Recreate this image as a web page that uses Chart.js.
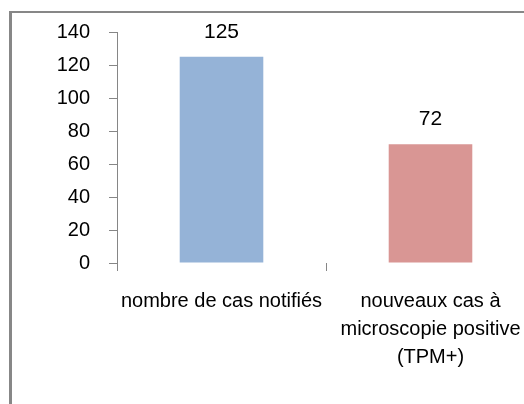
<!DOCTYPE html>
<html>
<head>
<meta charset="utf-8">
<script src="https://cdn.jsdelivr.net/npm/chart.js@4"></script>
<style>
  html, body { margin: 0; padding: 0; background: #fff; overflow: hidden; }
  #frame {
    position: absolute; left: 9px; top: 11px; width: 600px; height: 500px;
    border-left: 3px solid #878787; border-top: 2px solid #878787;
  }
  #wrap { position: absolute; left: 0; top: 0; width: 560px; height: 440px; }
</style>
</head>
<body>
<div id="frame"></div>
<div id="wrap"><canvas id="chart" width="560" height="440"></canvas></div>
<script>
const categories = [
  "nombre de cas notifiés",
  ["nouveaux cas à", "microscopie positive", "(TPM+)"],
];
const values = [125, 72];
const barColors = ["#95b3d7", "#d99694"];
const yTicks = { min: 0, max: 140, step: 20 };

const axisGray = "#868686";
const fontFamily = "'Liberation Sans', Arial, sans-serif";

// value labels above each bar
const valueLabels = {
  id: "valueLabels",
  afterDatasetsDraw(chart) {
    const ctx = chart.ctx;
    const meta = chart.getDatasetMeta(0);
    ctx.save();
    ctx.font = "21px " + fontFamily;
    ctx.fillStyle = "#000";
    ctx.textAlign = "center";
    ctx.textBaseline = "middle";
    meta.data.forEach((bar, i) => {
      ctx.fillText(String(values[i]), bar.x, bar.y - 25);
    });
    ctx.restore();
  },
};

new Chart(document.getElementById("chart"), {
  type: "bar",
  data: {
    labels: categories,
    datasets: [
      {
        data: values,
        backgroundColor: barColors,
        borderWidth: 0,
        barPercentage: 0.4,
        categoryPercentage: 1,
      },
    ],
  },
  options: {
    responsive: false,
    animation: false,
    devicePixelRatio: 1,
    layout: { padding: { top: 32, left: 0, right: 25, bottom: 47 } },
    plugins: {
      legend: { display: false },
      tooltip: { enabled: false },
    },
    scales: {
      x: {
        border: { display: false },
        grid: {
          drawOnChartArea: false,
          drawTicks: true,
          tickLength: 8,
          color: axisGray,
          offset: true,
        },
        ticks: {
          color: "#000",
          font: { family: fontFamily, size: 20, lineHeight: 1.4 },
          padding: 16,
          maxRotation: 0,
          autoSkip: false,
        },
        afterFit(axis) {
          axis.height = 130;
        },
      },
      y: {
        min: yTicks.min,
        max: yTicks.max,
        border: { display: true, color: axisGray, width: 1 },
        grid: {
          drawOnChartArea: false,
          drawTicks: true,
          tickLength: 8,
          color: axisGray,
        },
        ticks: {
          stepSize: yTicks.step,
          color: "#000",
          font: { family: fontFamily, size: 20 },
          padding: 19,
        },
        afterFit(axis) {
          axis.width = 117;
        },
      },
    },
  },
  plugins: [valueLabels],
});
</script>
</body>
</html>
